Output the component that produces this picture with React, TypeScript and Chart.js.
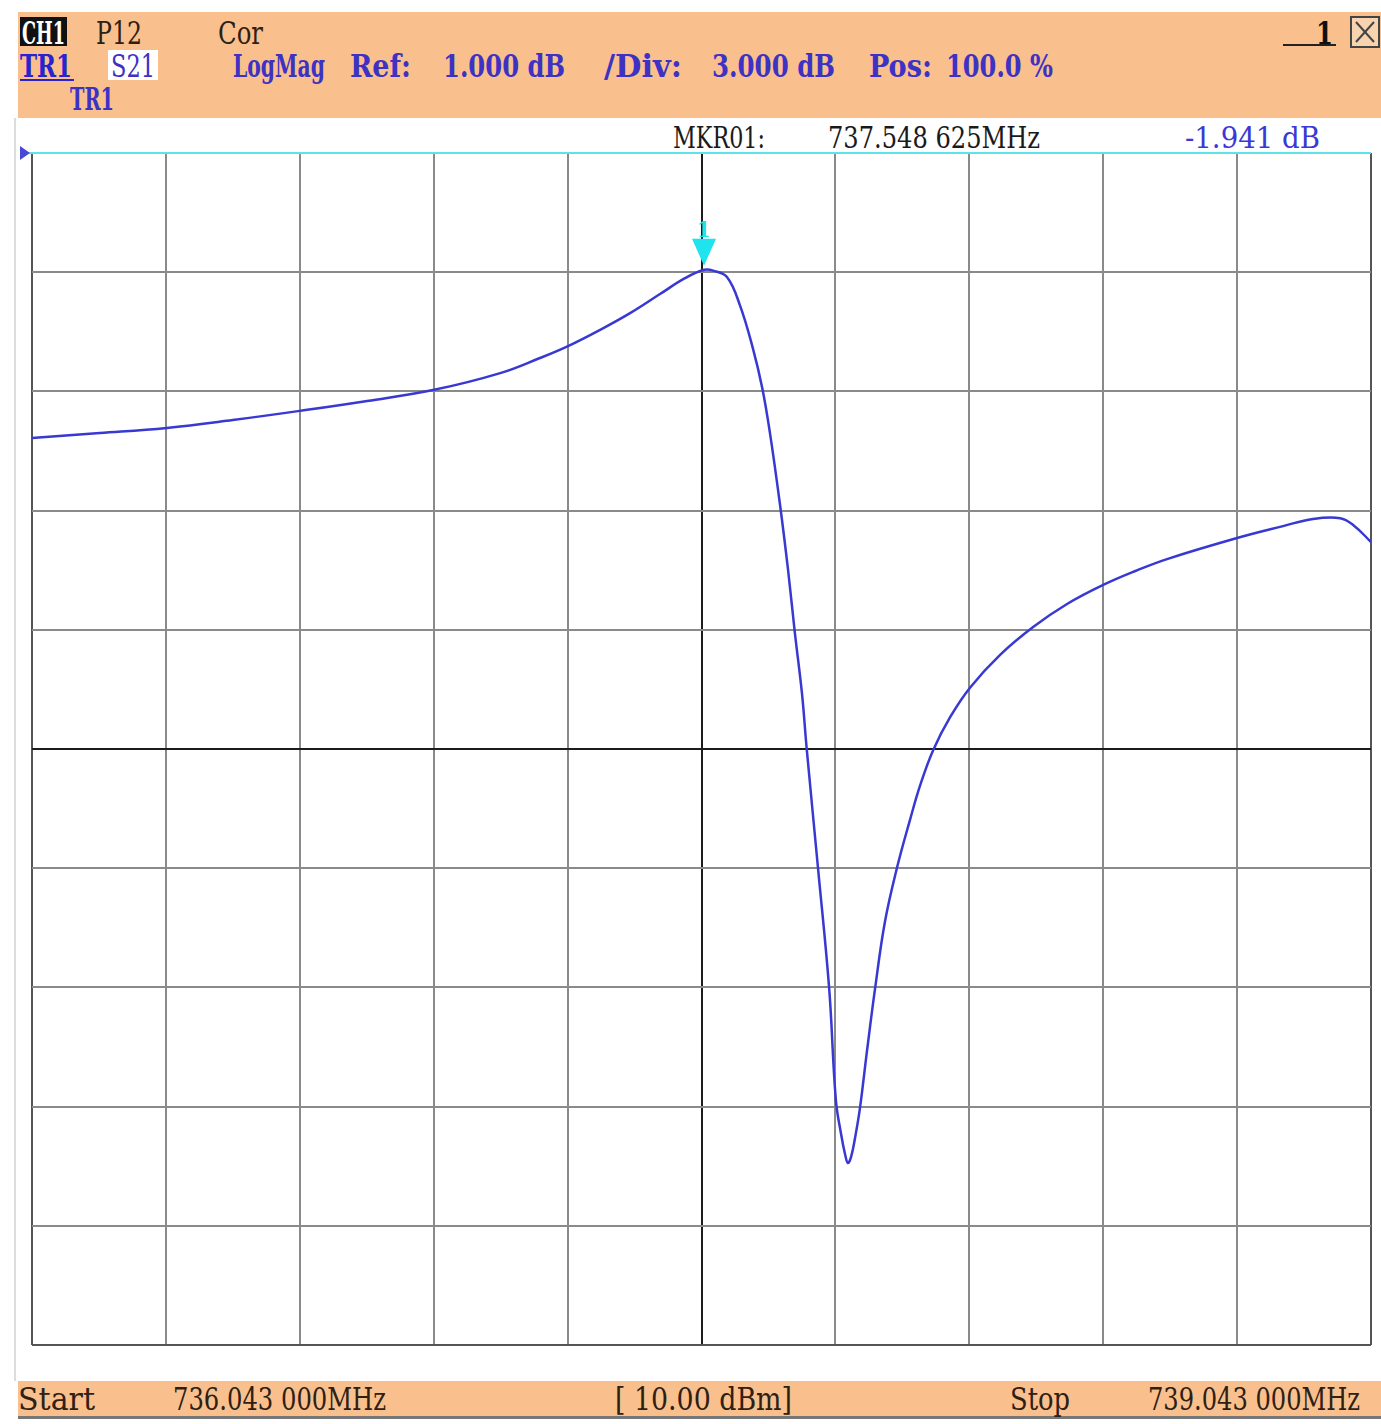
import React, { useEffect, useRef } from "react";
import { Chart, registerables } from "chart.js";

Chart.register(...registerables);

// ---- data ----
const freqMHz = [
  736.043, 736.195, 736.345, 736.493, 736.643, 736.794, 736.944, 737.092, 737.181, 737.244,
  737.316, 737.383, 737.45, 737.506, 737.549, 737.569, 737.6, 737.629, 737.658, 737.679,
  737.696, 737.719, 737.737, 737.752, 737.768, 737.779, 737.804, 737.829, 737.844, 737.856,
  737.865, 737.871, 737.878, 737.887, 737.898, 737.914, 737.932, 737.954, 737.981, 738.01,
  738.033, 738.062, 738.1, 738.145, 738.212, 738.286, 738.362, 738.443, 738.515, 738.586,
  738.743, 738.846, 738.913, 738.974, 739.003, 739.043,
];
const s21dB = [
  -6.17, -6.05, -5.92, -5.72, -5.49, -5.24, -4.96, -4.54, -4.16, -3.86,
  -3.45, -3.03, -2.55, -2.15, -1.94, -1.96, -2.12, -2.83, -3.91, -4.91,
  -6.02, -7.86, -9.5, -11.06, -12.59, -14.03, -16.99, -20.02, -22.83, -23.71,
  -24.22, -24.42, -24.27, -23.79, -23.04, -21.58, -20.02, -18.35, -16.99, -15.79,
  -14.91, -14.03, -13.2, -12.45, -11.63, -10.93, -10.35, -9.87, -9.52, -9.22,
  -8.69, -8.39, -8.21, -8.19, -8.36, -8.79,
];
const xGridTicks = [
  736.043, 736.343, 736.643, 736.943, 737.243, 737.543, 737.843, 738.143, 738.443, 738.743, 739.043,
];
const yGridTicks = [1, -2, -5, -8, -11, -14, -17, -20, -23, -26, -29];
const markerFreq = 737.548625;
const markerDb = -1.941;

const FONT = '"DejaVu Serif Condensed", "DejaVu Serif", serif';
const PEACH = "#F9C08D";
const BLUE = "#3d32c4";
const DARK = "#2e2014";

let measureCtx: CanvasRenderingContext2D | null = null;
function measure(text: string, font: string): number {
  if (typeof document === "undefined") return 0;
  if (!measureCtx) measureCtx = document.createElement("canvas").getContext("2d");
  if (!measureCtx) return 0;
  measureCtx.font = font;
  return measureCtx.measureText(text).width;
}

function Txt(props: {
  text: string;
  x1: number;
  x2: number;
  base: number;
  size?: number;
  color: string;
  weight?: number;
}) {
  const size = props.size ?? 32;
  const weight = props.weight ?? 700;
  const w = measure(props.text, `${weight} ${size}px ${FONT}`);
  const sx = w > 0 ? (props.x2 - props.x1) / w : 1;
  return (
    <div
      style={{
        position: "absolute",
        left: props.x1,
        top: props.base - 0.846 * size,
        fontFamily: FONT,
        fontSize: size,
        fontWeight: weight,
        lineHeight: `${size}px`,
        color: props.color,
        whiteSpace: "pre",
        transform: `scaleX(${sx})`,
        transformOrigin: "0 0",
      }}
    >
      {props.text}
    </div>
  );
}

const markerPlugin = {
  id: "markerArrow",
  afterDatasetsDraw(chart: any) {
    const { ctx } = chart;
    const xs = chart.scales.x;
    const ys = chart.scales.y;
    const px = xs.getPixelForValue(markerFreq);
    const py = ys.getPixelForValue(markerDb);
    ctx.save();
    ctx.fillStyle = "#1fe4ee";
    ctx.beginPath();
    ctx.moveTo(px - 12, py - 31);
    ctx.lineTo(px + 12, py - 31);
    ctx.lineTo(px, py - 4);
    ctx.closePath();
    ctx.fill();
    ctx.font = `bold 22px ${FONT}`;
    ctx.textAlign = "center";
    ctx.textBaseline = "bottom";
    ctx.fillText("1", px, py - 28);
    ctx.restore();
  },
};

function Plot() {
  const ref = useRef<HTMLCanvasElement | null>(null);
  useEffect(() => {
    if (!ref.current) return;
    const chart = new Chart(ref.current, {
      type: "line",
      data: {
        datasets: [
          {
            data: freqMHz.map((f, i) => ({ x: f, y: s21dB[i] })),
            borderColor: "#3838d2",
            borderWidth: 2.5,
            pointRadius: 0,
            tension: 0.4,
            fill: false,
          },
        ],
      },
      options: {
        animation: false,
        responsive: false,
        maintainAspectRatio: false,
        devicePixelRatio: 1,
        events: [],
        layout: { padding: 10 },
        plugins: { legend: { display: false }, tooltip: { enabled: false } },
        scales: {
          x: {
            type: "linear",
            min: 736.043,
            max: 739.043,
            afterBuildTicks: (s: any) => {
              s.ticks = xGridTicks.map((v) => ({ value: v }));
            },
            afterFit: (s: any) => {
              s.height = 0;
            },
            ticks: { display: false },
            border: { display: false },
            grid: {
              drawTicks: false,
              lineWidth: 2,
              color: (c: any) =>
                c.index === 5 ? "#1c1c1c" : c.index === 0 || c.index === 10 ? "#555555" : "#8a8a8a",
            },
          },
          y: {
            type: "linear",
            min: -29,
            max: 1,
            afterBuildTicks: (s: any) => {
              s.ticks = yGridTicks.map((v) => ({ value: v }));
            },
            afterFit: (s: any) => {
              s.width = 0;
            },
            ticks: { display: false },
            border: { display: false },
            grid: {
              drawTicks: false,
              lineWidth: 2,
              color: (c: any) =>
                c.tick && c.tick.value === 1
                  ? "#5fe3ea"
                  : c.tick && c.tick.value === -14
                  ? "#1c1c1c"
                  : c.tick && c.tick.value === -29
                  ? "#555555"
                  : "#8a8a8a",
            },
          },
        },
      },
      plugins: [markerPlugin],
    } as any);
    return () => chart.destroy();
  }, []);
  return (
    <canvas
      ref={ref}
      width={1359}
      height={1212}
      style={{ position: "absolute", left: 22, top: 143, width: 1359, height: 1212 }}
    />
  );
}

export default function App() {
  useEffect(() => {
    document.body.style.margin = "0";
    document.body.style.background = "#ffffff";
  }, []);
  return (
    <div
      style={{
        position: "absolute",
        left: 0,
        top: 0,
        width: 1381,
        height: 1424,
        background: "#ffffff",
        overflow: "hidden",
      }}
    >
      {/* left light border */}
      <div style={{ position: "absolute", left: 14, top: 118, width: 2, height: 1263, background: "#dcdcdc" }} />

      {/* header band */}
      <div style={{ position: "absolute", left: 18, top: 12, width: 1363, height: 106, background: PEACH }} />
      <div style={{ position: "absolute", left: 20, top: 17, width: 47, height: 29, background: "#111" }} />
      <Txt text="CH1" x1={22} x2={65} base={44} color="#ffffff" />
      <Txt text="P12" x1={96} x2={142} base={44} color={DARK} weight={400} />
      <Txt text="Cor" x1={218} x2={263} base={44} color={DARK} weight={400} />
      <Txt text="1" x1={1316} x2={1333} base={44} color="#111" />
      <div style={{ position: "absolute", left: 1283, top: 44, width: 53, height: 2, background: "#222" }} />
      <div
        style={{
          position: "absolute",
          left: 1350,
          top: 16,
          width: 26,
          height: 28,
          border: "2px solid #444",
          background: "#f7d3b0",
        }}
      >
        <svg width="26" height="28" style={{ position: "absolute", left: 0, top: 0 }}>
          <line x1="4" y1="4" x2="22" y2="24" stroke="#444" strokeWidth="2" />
          <line x1="22" y1="4" x2="4" y2="24" stroke="#444" strokeWidth="2" />
        </svg>
      </div>

      <Txt text="TR1" x1={20} x2={72} base={77} color="#2a22d0" />
      <div style={{ position: "absolute", left: 20, top: 79, width: 54, height: 2, background: "#2a22d0" }} />
      <div style={{ position: "absolute", left: 108, top: 50, width: 50, height: 30, background: "#ffffff" }} />
      <Txt text="S21" x1={111} x2={155} base={77} color={BLUE} weight={400} />
      <Txt text="LogMag" x1={233} x2={325} base={77} color={BLUE} />
      <Txt text="Ref:" x1={350} x2={411} base={77} color={BLUE} />
      <Txt text="1.000 dB" x1={443} x2={565} base={77} color={BLUE} />
      <Txt text="/Div:" x1={604} x2={682} base={77} color={BLUE} />
      <Txt text="3.000 dB" x1={712} x2={835} base={77} color={BLUE} />
      <Txt text="Pos:" x1={869} x2={932} base={77} color={BLUE} />
      <Txt text="100.0 %" x1={946} x2={1053} base={77} color={BLUE} />
      <Txt text="TR1" x1={70} x2={114} base={110} color={BLUE} />

      {/* marker readout */}
      <Txt text="MKR01:" x1={673} x2={765} base={148} size={30} color="#1a1a1a" weight={400} />
      <Txt text="737.548 625MHz" x1={828} x2={1040} base={148} size={30} color="#1a1a1a" weight={400} />
      <Txt text="-1.941 dB" x1={1185} x2={1320} base={148} size={30} color="#3a38d6" weight={400} />

      <Plot />

      {/* reference level marker */}
      <div style={{ position: "absolute", left: 24, top: 152, width: 10, height: 2, background: "#5fe3ea" }} />
      <div
        style={{
          position: "absolute",
          left: 20,
          top: 146,
          width: 0,
          height: 0,
          borderTop: "7px solid transparent",
          borderBottom: "7px solid transparent",
          borderLeft: "10px solid #4848d8",
        }}
      />

      {/* footer band */}
      <div style={{ position: "absolute", left: 18, top: 1381, width: 1363, height: 35, background: PEACH }} />
      <div style={{ position: "absolute", left: 18, top: 1416, width: 1363, height: 3, background: "#777" }} />
      <Txt text="Start" x1={18} x2={95} base={1410} color={DARK} weight={400} />
      <Txt text="736.043 000MHz" x1={173} x2={386} base={1410} color={DARK} weight={400} />
      <Txt text="[ 10.00 dBm]" x1={615} x2={792} base={1410} color={DARK} weight={400} />
      <Txt text="Stop" x1={1010} x2={1070} base={1410} color={DARK} weight={400} />
      <Txt text="739.043 000MHz" x1={1148} x2={1360} base={1410} color={DARK} weight={400} />
    </div>
  );
}
